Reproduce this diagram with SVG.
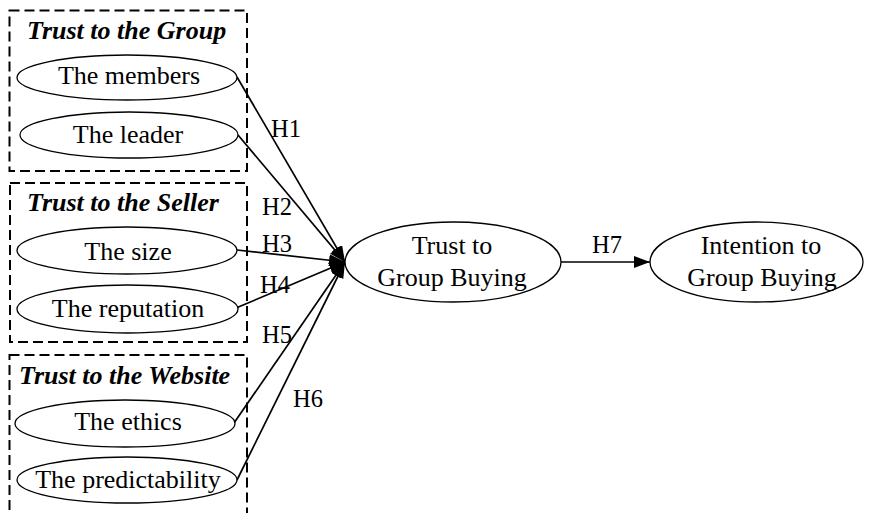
<svg xmlns="http://www.w3.org/2000/svg" width="869" height="513" viewBox="0 0 869 513">
  <style>
    .grp { fill: none; stroke: #000; stroke-width: 2; stroke-dasharray: 10 5; }
    .node { fill: #fff; stroke: #000; stroke-width: 1.3; }
    .title { font-family: "Liberation Serif", "Times New Roman", serif; font-size: 26px; font-weight: bold; font-style: italic; fill: #000; }
    .lbl { font-family: "Liberation Serif", "Times New Roman", serif; font-size: 26px; fill: #000; text-anchor: middle; }
    .hyp { font-family: "Liberation Serif", "Times New Roman", serif; font-size: 24.5px; fill: #000; }
    .edge { fill: none; stroke: #000; stroke-width: 1.7; }
  </style>
  <defs>
    <marker id="arrow" viewBox="0 0 16 12" refX="16" refY="6" markerWidth="16" markerHeight="12" markerUnits="userSpaceOnUse" orient="auto">
      <path d="M0,0 L16,6 L0,12 Z" fill="#000"/>
    </marker>
  </defs>
  <rect width="869" height="513" fill="#fff"/>

  <!-- construct groups -->
  <g id="group-trust-group">
    <rect class="grp" x="9.5" y="10.5" width="237.5" height="160.5"/>
    <text class="title" x="27" y="39">Trust to the Group</text>
  </g>
  <g id="group-trust-seller">
    <rect class="grp" x="10" y="183" width="237" height="159"/>
    <text class="title" x="27" y="211">Trust to the Seller</text>
  </g>
  <g id="group-trust-website">
    <rect class="grp" x="9.5" y="355" width="237.5" height="170"/>
    <text class="title" x="19" y="384">Trust to the Website</text>
  </g>

  <!-- connectors -->
  <g id="connectors">
    <line class="edge" x1="237" y1="77" x2="345" y2="262" marker-end="url(#arrow)"/>
    <line class="edge" x1="238" y1="135" x2="345" y2="262" marker-end="url(#arrow)"/>
    <line class="edge" x1="237" y1="250" x2="345" y2="262" marker-end="url(#arrow)"/>
    <line class="edge" x1="236" y1="308" x2="345" y2="262" marker-end="url(#arrow)"/>
    <line class="edge" x1="234" y1="423" x2="345" y2="262" marker-end="url(#arrow)"/>
    <line class="edge" x1="237" y1="480" x2="345" y2="262" marker-end="url(#arrow)"/>
    <line class="edge" x1="561" y1="262" x2="650" y2="262" marker-end="url(#arrow)"/>
    <text class="hyp" x="271" y="137">H1</text>
    <text class="hyp" x="262" y="215">H2</text>
    <text class="hyp" x="262" y="252">H3</text>
    <text class="hyp" x="260" y="293">H4</text>
    <text class="hyp" x="262" y="343">H5</text>
    <text class="hyp" x="293" y="407">H6</text>
    <text class="hyp" x="592" y="253">H7</text>
  </g>

  <!-- indicator nodes -->
  <g id="node-members">
    <ellipse class="node" cx="127" cy="77.5" rx="110" ry="22.5"/>
    <text class="lbl" x="129" y="84">The members</text>
  </g>
  <g id="node-leader">
    <ellipse class="node" cx="129" cy="135" rx="109" ry="23"/>
    <text class="lbl" x="128" y="143">The leader</text>
  </g>
  <g id="node-size">
    <ellipse class="node" cx="127" cy="250.5" rx="110" ry="23.5"/>
    <text class="lbl" x="128" y="260">The size</text>
  </g>
  <g id="node-reputation">
    <ellipse class="node" cx="127.5" cy="309" rx="110.5" ry="24"/>
    <text class="lbl" x="128" y="317">The reputation</text>
  </g>
  <g id="node-ethics">
    <ellipse class="node" cx="125" cy="423.5" rx="110" ry="23.5"/>
    <text class="lbl" x="128" y="430">The ethics</text>
  </g>
  <g id="node-predictability">
    <ellipse class="node" cx="127" cy="480" rx="110" ry="23"/>
    <text class="lbl" x="128" y="488">The predictability</text>
  </g>

  <!-- outcome nodes -->
  <g id="node-trust-gb">
    <ellipse class="node" cx="453" cy="262" rx="108" ry="40"/>
    <text class="lbl" x="452" y="254">Trust to</text>
    <text class="lbl" x="452" y="286">Group Buying</text>
  </g>
  <g id="node-intention-gb">
    <ellipse class="node" cx="756.5" cy="262" rx="106.5" ry="40"/>
    <text class="lbl" x="761" y="254">Intention to</text>
    <text class="lbl" x="762" y="286">Group Buying</text>
  </g>
</svg>
